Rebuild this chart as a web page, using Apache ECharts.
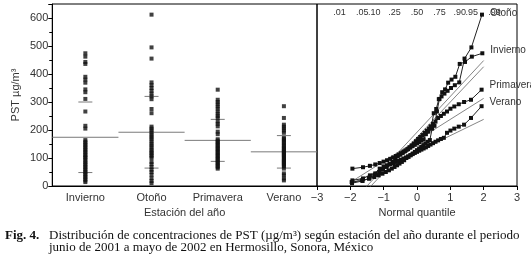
<!DOCTYPE html>
<html>
<head>
<meta charset="UTF-8">
<title>PST por estación del año</title>
<script src="https://cdn.jsdelivr.net/npm/echarts@6/dist/echarts.min.js"></script>
<style>
  html, body { margin: 0; padding: 0; background: #fff; }
  #main { width: 531px; height: 263px; }
</style>
</head>
<body>
<div id="main"></div>
<script>
// categorias y valores (µg/m3)
var estaciones = ['Invierno', 'Otoño', 'Primavera', 'Verano'];

var invierno = [14, 20, 26, 32, 38, 44, 50, 56, 62, 68, 74, 80, 86, 92, 100, 104, 110, 116, 122, 128,
  134, 140, 146, 152, 158, 164, 205, 215, 266, 311, 335, 345, 369, 380, 390, 436, 443, 462, 474];
var otono = [10, 18, 28, 40, 50, 58, 68, 78, 86, 100, 106, 112, 118, 124, 130, 138, 145, 152, 160,
  168, 175, 182, 190, 198, 205, 212, 260, 275, 310, 320, 330, 340, 350, 360, 370, 455, 495, 612];
var primavera = [62, 67, 72, 77, 82, 87, 92, 97, 102, 107, 112, 117, 122, 127, 132, 137, 142, 147,
  152, 157, 162, 167, 185, 194, 213, 222, 230, 243, 250, 258, 266, 276, 284, 292, 300, 308, 344];
var verano = [20, 27, 38, 45, 62, 70, 74, 78, 82, 86, 90, 94, 98, 102, 106, 110, 114, 118, 122, 126,
  130, 134, 138, 143, 148, 153, 158, 163, 168, 172, 190, 198, 205, 212, 219, 243, 285];

// medias y desviaciones (lineas horizontales y rectas de referencia)
var medias = [174, 192, 163, 122];
var desv = [126, 128, 75, 58];

var probTicks = [0.01, 0.05, 0.10, 0.25, 0.50, 0.75, 0.90, 0.95, 0.99];
var probLabels = ['.01', '.05', '.10', '.25', '.50', '.75', '.90', '.95', '.99'];

var series_ = [invierno, otono, primavera, verano];
var labelDy = [-3, -1, -4, -4];

// inversa de la normal (Acklam)
function qnorm(p) {
  var a = [-39.69683028665376, 220.9460984245205, -275.9285104469687, 138.3577518672690, -30.66479806614716, 2.506628277459239];
  var b = [-54.47609879822406, 161.5858368580409, -155.6989798598866, 66.80131188771972, -13.28068155288572];
  var c = [-0.007784894002430293, -0.3223964580411365, -2.400758277161838, -2.549732539343734, 4.374664141464968, 2.938163982698783];
  var d = [0.007784695709041462, 0.3224671290700398, 2.445134137142996, 3.754408661907416];
  var pl = 0.02425, q, r;
  if (p < pl) {
    q = Math.sqrt(-2 * Math.log(p));
    return (((((c[0]*q+c[1])*q+c[2])*q+c[3])*q+c[4])*q+c[5]) / ((((d[0]*q+d[1])*q+d[2])*q+d[3])*q+1);
  }
  if (p > 1 - pl) {
    q = Math.sqrt(-2 * Math.log(1 - p));
    return -(((((c[0]*q+c[1])*q+c[2])*q+c[3])*q+c[4])*q+c[5]) / ((((d[0]*q+d[1])*q+d[2])*q+d[3])*q+1);
  }
  q = p - 0.5; r = q * q;
  return (((((a[0]*r+a[1])*r+a[2])*r+a[3])*r+a[4])*r+a[5])*q / (((((b[0]*r+b[1])*r+b[2])*r+b[3])*r+b[4])*r+1);
}

var zProb = probTicks.map(qnorm);

var txt = '#333';
var font = 'Liberation Sans';

var myChart = echarts.init(document.getElementById('main'));

var series = [];

// puntos por estacion
estaciones.forEach(function (e, i) {
  series.push({
    type: 'scatter', xAxisIndex: 0, yAxisIndex: 0,
    symbol: 'rect', symbolSize: 4,
    itemStyle: { color: '#111' },
    data: series_[i].map(function (v) { return [e, v]; }),
    silent: true
  });
});

// media (toda la banda) y media +- desviacion (cortas)
series.push({
  type: 'custom', xAxisIndex: 0, yAxisIndex: 0, silent: true,
  data: estaciones.map(function (e, i) { return [i, medias[i], desv[i]]; }),
  renderItem: function (params, api) {
    var i = api.value(0), m = api.value(1), s = api.value(2);
    var c = api.coord([i, m]);
    var hi = api.coord([i, m + s]);
    var lo = api.coord([i, m - s]);
    var w = api.size([1, 0])[0];
    var st = { stroke: '#7a7a7a', lineWidth: 1 };
    return {
      type: 'group',
      children: [
        { type: 'line', shape: { x1: c[0] - w / 2, y1: c[1], x2: c[0] + w / 2, y2: c[1] }, style: st },
        { type: 'line', shape: { x1: hi[0] - 7, y1: hi[1], x2: hi[0] + 7, y2: hi[1] }, style: st },
        { type: 'line', shape: { x1: lo[0] - 7, y1: lo[1], x2: lo[0] + 7, y2: lo[1] }, style: st }
      ]
    };
  }
});

// rectas normales de referencia
estaciones.forEach(function (e, i) {
  series.push({
    type: 'line', xAxisIndex: 1, yAxisIndex: 1, silent: true,
    showSymbol: false, clip: true,
    lineStyle: { color: '#666', width: 0.8 },
    data: [[-2, medias[i] - 2 * desv[i]], [2, medias[i] + 2 * desv[i]]]
  });
});

// grafica de cuantiles normales
estaciones.forEach(function (e, i) {
  var vals = series_[i].slice().sort(function (a, b) { return a - b; });
  var n = vals.length;
  series.push({
    type: 'line', xAxisIndex: 1, yAxisIndex: 1, silent: true,
    symbol: 'rect', symbolSize: 4, showAllSymbol: true,
    lineStyle: { color: '#222', width: 1 },
    itemStyle: { color: '#111' },
    endLabel: {
      show: true, formatter: e, color: txt, fontSize: 10, fontFamily: font,
      offset: [0, labelDy[i]]
    },
    data: vals.map(function (v, k) { return [qnorm((k + 1) / (n + 1)), v]; })
  });
});

option = {
  animation: false,
  grid: [
    { left: 45, top: 4, width: 272, height: 182, show: true, borderColor: '#000', borderWidth: 1 },
    { left: 317, top: 4, width: 200, height: 182, show: true, borderColor: '#000', borderWidth: 1 }
  ],
  xAxis: [
    {
      type: 'category', gridIndex: 0, data: estaciones,
      name: 'Estación del año', nameLocation: 'middle', nameGap: 20,
      nameTextStyle: { color: txt, fontSize: 11, fontFamily: font },
      axisLine: { lineStyle: { color: '#000' } },
      axisTick: { length: 4, lineStyle: { color: '#000' } },
      axisLabel: { color: txt, fontSize: 11, fontFamily: font, margin: 6 }
    },
    {
      type: 'value', gridIndex: 1, min: -3, max: 3, interval: 1,
      name: 'Normal quantile', nameLocation: 'middle', nameGap: 20,
      nameTextStyle: { color: txt, fontSize: 11, fontFamily: font },
      axisLine: { lineStyle: { color: '#000' } },
      axisTick: { length: 4, lineStyle: { color: '#000' } },
      splitLine: { show: false },
      axisLabel: {
        color: txt, fontSize: 11, fontFamily: font, margin: 6,
        formatter: function (v) { return String(v).replace('-', '\u2212'); }
      }
    },
    {
      type: 'value', gridIndex: 1, min: -3, max: 3, position: 'top',
      axisLine: { show: false }, axisTick: { show: false }, splitLine: { show: false },
      axisLabel: {
        inside: true, margin: 4, color: txt, fontSize: 9, fontFamily: font,
        customValues: zProb,
        formatter: function (v) {
          for (var k = 0; k < zProb.length; k++) {
            if (Math.abs(zProb[k] - v) < 1e-6) return probLabels[k];
          }
          return '';
        }
      }
    }
  ],
  yAxis: [
    {
      type: 'value', gridIndex: 0, min: 0, max: 650, interval: 100,
      name: 'PST µg/m³', nameLocation: 'middle', nameGap: 31,
      nameTextStyle: { color: txt, fontSize: 11, fontFamily: font },
      axisLine: { show: true, lineStyle: { color: '#000' } },
      axisTick: { show: true, length: 4, lineStyle: { color: '#000' } },
      minorTick: { show: true, splitNumber: 2, length: 3, lineStyle: { color: '#000' } },
      splitLine: { show: false },
      axisLabel: { color: txt, fontSize: 11, fontFamily: font, margin: 4, showMaxLabel: false }
    },
    {
      type: 'value', gridIndex: 1, min: 0, max: 650,
      axisLine: { show: false }, axisTick: { show: false },
      axisLabel: { show: false }, splitLine: { show: false }
    }
  ],
  graphic: [
    {
      type: 'text', left: 5, top: 229,
      style: { text: 'Fig. 4.', font: 'bold 13px "Liberation Serif"', fill: '#111' }
    },
    {
      type: 'text', left: 49, top: 229,
      style: {
        text: 'Distribución de concentraciones de PST (µg/m³) según estación del año durante el periodo\njunio de 2001 a mayo de 2002 en Hermosillo, Sonora, México',
        font: '13px "Liberation Serif"', fill: '#111', lineHeight: 12
      }
    }
  ],
  series: series
};

myChart.setOption(option);
</script>
</body>
</html>
